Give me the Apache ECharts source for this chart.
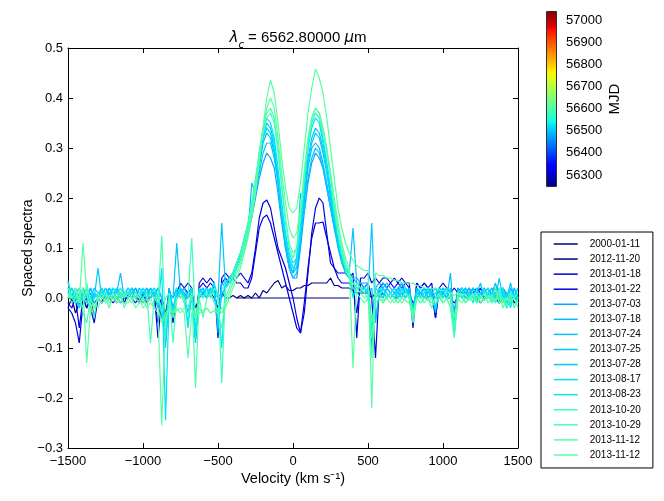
<!DOCTYPE html>
<html><head><meta charset="utf-8">
<script src="https://cdn.jsdelivr.net/npm/echarts@6/dist/echarts.min.js"></script>
<style>html,body{margin:0;padding:0;background:#fff}#c{width:664px;height:501px}</style>
</head><body><div id="c"></div>
<script>
const velocity = [
-1500,-1475,-1450,-1425,-1400,-1375,-1350,-1325,
-1300,-1275,-1250,-1225,-1200,-1175,-1150,-1125,
-1100,-1075,-1050,-1025,-1000,-975,-950,-925,
-900,-875,-850,-825,-800,-775,-750,-725,
-700,-675,-650,-625,-600,-575,-550,-525,
-500,-475,-450,-425,-400,-375,-350,-325,
-300,-275,-250,-225,-200,-175,-150,-125,
-100,-75,-50,-25,0,25,50,75,
100,125,150,175,200,225,250,275,
300,325,350,375,400,425,450,475,
500,525,550,575,600,625,650,675,
700,725,750,775,800,825,850,875,
900,925,950,975,1000,1025,1050,1075,
1100,1125,1150,1175,1200,1225,1250,1275,
1300,1325,1350,1375,1400,1425,1450,1475,
1500];

const dates = ['2000-01-11','2012-11-20','2013-01-18','2013-01-22','2013-07-03','2013-07-18','2013-07-24','2013-07-25','2013-07-28','2013-08-17','2013-08-23','2013-10-20','2013-10-29','2013-11-12','2013-11-12\u200b'];
const mjd = [51554,56251,56310,56314,56476,56491,56497,56498,56501,56521,56527,56585,56594,56608,56608];
const mjdMin = 56246, mjdMax = 57041;
const cbTicks = [56300,56400,56500,56600,56700,56800,56900,57000];

const spec01 = [
null,null,null,null,null,null,null,null,
null,null,null,null,null,null,null,null,
null,null,null,null,null,null,null,null,
null,null,null,null,null,null,null,null,
null,null,null,null,null,null,null,null,
null,null,null,null,null,0,0,0,
0,0,0,0,0,0,0,0,
0,0,0,0,0,0,0,0,
0,0,0,0,0,0,0,0,
0,0,0,0,null,null,null,null,
null,null,null,null,null,null,null,null,
null,null,null,null,null,null,null,null,
null,null,null,null,null,null,null,null,
null,null,null,null,null,null,null,null,
null,null,null,null,null,null,null,null,
null];
const spec02 = [
-0.02,0.00,-0.03,-0.01,0.00,-0.02,0.00,-0.01,
0.00,0.01,0.00,0.00,0.01,0.00,-0.01,0.00,
0.00,0.01,0.00,0.00,-0.01,0.00,0.00,0.01,
-0.02,0.00,-0.03,0.00,-0.02,0.00,0.01,0.00,
0.00,0.01,-0.02,0.00,0.01,0.00,0.01,0.00,
-0.02,0.01,0.00,0.00,0.005,0.00,0.005,0.00,
0.005,0.00,0.01,0.00,0.015,0.01,0.02,0.03,
0.035,0.02,0.025,0.015,0.015,0.02,0.02,0.025,
0.025,0.03,0.03,0.03,0.03,0.03,0.04,0.025,
0.025,0.02,0.02,0.02,0.015,0.01,0.01,0.01,
0.01,0.00,0.01,0.00,0.01,0.00,0.01,0.00,
0.00,0.01,0.00,0.01,-0.01,0.00,0.01,0.00,
0.00,0.01,0.00,0.00,0.01,0.00,0.00,-0.01,
0.00,0.01,0.00,0.00,0.01,0.00,-0.01,0.00,
0.00,0.01,0.00,-0.01,0.00,0.01,0.00,-0.01,
0.00];
const spec03 = [
-0.02,-0.03,-0.05,-0.09,-0.01,0.00,-0.02,-0.05,
0.00,-0.01,0.01,0.00,-0.01,0.00,0.01,-0.01,
0.01,0.00,-0.01,0.00,0.01,-0.01,0.00,0.01,
-0.08,0.00,-0.04,0.02,-0.05,0.01,0.03,0.02,
0.03,0.02,-0.08,0.03,0.04,0.03,0.04,0.03,
-0.08,0.04,0.05,0.04,0.05,0.04,0.05,0.04,
0.03,0.05,0.10,0.16,0.19,0.196,0.18,0.14,
0.10,0.08,0.06,0.03,0.00,-0.04,-0.07,-0.03,
0.05,0.13,0.18,0.20,0.19,0.13,0.07,0.06,
0.05,0.05,0.05,0.04,0.05,-0.08,0.04,0.04,
0.05,0.03,0.04,0.03,0.04,0.04,0.03,0.04,
0.03,0.04,0.03,0.03,-0.06,0.03,0.02,0.03,
0.02,0.03,-0.04,0.02,0.03,0.02,0.01,0.02,
0.01,0.02,0.01,0.02,0.00,0.01,0.02,0.00,
0.01,0.00,0.01,-0.01,0.02,0.00,0.01,-0.01,
0.00];
const spec04 = [
-0.01,-0.02,0.00,-0.06,0.00,-0.02,0.00,-0.04,
0.00,-0.01,0.00,0.01,0.00,-0.01,0.01,0.00,
0.00,0.01,0.00,-0.01,0.01,0.00,0.01,0.00,
-0.05,0.00,-0.07,0.01,-0.04,0.00,0.01,0.02,
0.01,0.02,-0.05,0.02,0.03,0.02,0.03,0.02,
-0.04,0.03,0.04,0.03,0.04,0.03,0.03,0.02,
0.02,0.04,0.09,0.14,0.16,0.166,0.15,0.12,
0.09,0.06,0.03,0.00,-0.03,-0.06,-0.07,-0.01,
0.06,0.12,0.15,0.15,0.152,0.12,0.09,0.06,
0.04,0.03,0.03,0.03,0.02,-0.03,0.03,0.02,
0.03,0.00,-0.12,0.02,0.03,0.02,0.03,0.02,
0.03,0.02,0.03,0.02,-0.04,0.03,0.02,0.03,
0.02,0.01,-0.04,0.02,0.01,0.02,0.01,-0.03,
0.02,0.01,0.02,0.00,0.01,0.02,0.01,0.00,
0.01,0.00,0.02,0.01,0.00,0.01,-0.01,0.00,
0.00];
const spec05 = [
0.035,0.00,0.01,-0.01,0.02,0.00,0.01,-0.01,
0.00,0.02,0.00,0.01,0.00,0.02,0.00,0.01,
0.00,0.01,0.02,0.00,0.01,0.00,0.01,0.02,
0.00,-0.03,-0.09,0.01,-0.02,0.00,0.02,0.01,
0.00,0.01,-0.08,0.02,0.01,0.02,0.01,0.03,
-0.07,0.03,0.03,0.04,0.05,0.07,0.09,0.11,
0.13,0.16,0.20,0.24,0.27,0.29,0.28,0.26,
0.21,0.15,0.10,0.06,0.04,0.04,0.10,0.17,
0.23,0.27,0.29,0.28,0.26,0.22,0.18,0.14,
0.11,0.08,0.06,0.05,0.04,0.04,0.03,0.03,
0.03,-0.10,0.02,0.03,0.02,0.03,0.02,0.01,
0.02,0.03,0.01,0.02,-0.03,0.02,0.01,0.02,
0.01,0.02,-0.02,0.01,0.02,0.01,0.00,-0.07,
0.01,0.02,0.01,0.00,0.02,0.01,0.00,0.01,
0.02,0.00,0.01,0.02,0.00,-0.02,0.01,0.00,
0.01];
const spec06 = [
0.01,0.02,0.00,-0.02,0.01,0.00,0.02,0.00,
0.01,0.00,0.01,0.00,0.02,0.01,0.05,0.00,
0.01,0.02,0.00,0.01,0.00,0.02,0.01,0.00,
0.02,0.00,-0.06,0.01,0.00,0.02,0.01,0.00,
0.01,0.02,-0.05,0.00,0.01,0.02,0.00,0.02,
0.01,0.00,0.02,0.04,0.05,0.07,0.09,0.11,
0.13,0.23,0.21,0.26,0.31,0.33,0.32,0.29,
0.23,0.16,0.10,0.06,0.04,0.05,0.11,0.19,
0.26,0.30,0.31,0.30,0.27,0.23,0.19,0.15,
0.11,0.08,0.06,0.05,0.04,0.03,0.03,0.02,
0.03,-0.06,0.02,0.01,0.03,0.02,0.01,0.02,
0.01,0.03,0.02,0.01,-0.02,0.02,0.01,0.00,
0.02,0.01,-0.03,0.02,0.01,0.00,0.05,-0.06,
0.01,0.02,0.00,0.01,0.02,0.00,0.01,0.02,
0.00,0.02,0.01,0.00,0.02,0.01,-0.01,0.02,
0.00];
const spec07 = [
0.02,0.00,0.01,0.02,0.00,0.01,0.00,0.02,
0.01,0.00,0.02,0.01,0.00,0.02,0.01,0.00,
0.02,0.01,0.00,0.02,0.01,0.00,0.02,0.01,
0.00,-0.02,-0.07,0.01,0.00,0.11,0.01,0.02,
0.00,0.01,-0.07,0.02,0.01,0.00,0.02,0.01,
-0.05,0.03,0.02,0.03,0.05,0.06,0.08,0.11,
0.14,0.18,0.23,0.28,0.32,0.34,0.33,0.30,
0.24,0.17,0.11,0.07,0.05,0.06,0.12,0.21,
0.28,0.32,0.34,0.33,0.30,0.26,0.21,0.16,
0.12,0.08,0.06,0.05,0.14,0.03,0.02,0.02,
0.01,0.02,-0.05,0.01,0.00,0.02,0.01,0.00,
0.01,0.00,0.02,0.01,-0.04,0.00,0.01,0.02,
0.00,0.01,0.00,0.02,0.01,0.00,0.02,-0.06,
0.00,0.02,0.01,0.00,0.02,0.01,0.00,0.01,
0.02,0.00,0.01,-0.01,0.02,0.00,0.03,0.00,
0.02];
const spec08 = [
0.00,0.01,-0.01,0.00,0.02,0.00,-0.01,0.01,
0.00,0.01,0.00,0.02,0.01,0.00,0.01,0.00,
0.01,0.00,0.02,0.01,0.00,0.01,0.02,0.00,
0.01,-0.04,-0.05,0.02,-0.02,0.01,0.00,0.01,
-0.03,0.00,-0.06,0.01,0.02,0.00,0.01,0.02,
-0.06,0.01,0.02,0.03,0.04,0.06,0.08,0.10,
0.13,0.17,0.21,0.25,0.29,0.31,0.31,0.28,
0.23,0.17,0.11,0.07,0.05,0.08,0.21,0.17,
0.24,0.28,0.30,0.29,0.26,0.22,0.18,0.14,
0.10,0.07,0.05,0.04,0.03,0.02,0.02,0.01,
0.02,-0.08,0.01,0.00,0.02,0.01,0.00,0.01,
0.00,0.02,0.01,0.00,-0.03,0.02,0.00,0.01,
0.02,0.00,0.01,0.00,0.02,0.01,0.00,-0.04,
0.01,0.00,0.02,0.01,0.00,0.01,0.00,0.02,
0.00,0.01,0.03,0.00,0.01,-0.01,0.02,0.00,
0.01];
const spec09 = [
0.01,0.00,0.02,0.00,0.01,-0.01,0.02,0.00,
0.06,0.00,0.01,0.02,0.00,0.01,0.02,0.01,
0.00,0.02,0.01,0.00,0.01,0.02,0.00,0.01,
0.02,0.00,-0.10,0.01,0.00,0.02,0.01,0.00,
0.00,0.02,-0.09,0.01,0.02,0.00,0.02,0.01,
0.00,0.15,0.02,0.03,0.04,0.06,0.08,0.10,
0.13,0.17,0.22,0.27,0.32,0.35,0.34,0.31,
0.25,0.18,0.12,0.08,0.06,0.06,0.12,0.20,
0.27,0.31,0.33,0.32,0.29,0.25,0.20,0.15,
0.11,0.08,0.05,0.04,0.02,0.02,0.01,0.02,
0.01,0.15,-0.04,0.01,0.00,0.02,0.01,0.00,
0.02,0.01,0.00,0.02,-0.02,0.01,0.00,0.02,
0.00,0.01,0.02,0.00,0.01,0.02,0.01,-0.03,
0.02,0.00,0.01,0.02,0.00,0.01,0.03,0.00,
0.01,0.02,0.00,0.04,0.00,0.01,0.00,0.02,
0.00];
const spec10 = [
0.00,0.02,-0.01,0.01,0.00,0.02,0.00,0.01,
0.00,0.01,0.02,0.00,0.01,0.02,0.01,0.00,
0.01,0.02,0.01,0.00,0.02,0.01,0.00,0.01,
-0.02,0.06,-0.245,0.00,-0.03,0.01,0.02,0.00,
-0.06,0.01,-0.06,0.02,0.00,0.01,0.02,0.01,
-0.04,0.02,0.02,0.03,0.05,0.07,0.09,0.11,
0.14,0.18,0.23,0.29,0.34,0.36,0.35,0.32,
0.26,0.19,0.13,0.09,0.07,0.08,0.15,0.23,
0.30,0.34,0.36,0.35,0.31,0.27,0.22,0.16,
0.12,0.08,0.06,0.04,0.03,0.02,0.02,0.01,
0.02,-0.05,0.00,0.01,0.02,0.00,0.01,0.00,
0.01,0.02,0.00,0.01,-0.03,0.01,0.02,0.00,
0.01,0.00,0.01,0.02,0.00,0.01,0.00,-0.05,
0.00,0.01,0.02,0.00,0.01,-0.01,0.01,0.02,
0.00,0.01,-0.01,0.02,0.00,0.01,-0.02,0.01,
0.00];
const spec11 = [
0.03,0.00,0.01,-0.02,0.00,0.01,-0.02,0.00,
0.01,0.02,0.00,0.01,0.02,0.01,0.00,0.01,
0.02,0.01,0.00,0.01,0.02,0.00,0.01,0.02,
0.00,-0.02,-0.08,0.01,-0.03,0.02,0.01,0.00,
-0.05,0.02,-0.08,0.01,0.00,0.02,0.01,0.03,
0.00,-0.10,0.03,0.04,0.05,0.07,0.09,0.12,
0.15,0.19,0.23,0.28,0.32,0.34,0.33,0.31,
0.25,0.18,0.12,0.08,0.06,0.07,0.14,0.22,
0.30,0.35,0.37,0.36,0.32,0.27,0.22,0.17,
0.12,0.09,0.06,0.05,0.00,0.03,0.02,0.02,
0.01,-0.06,0.00,0.02,0.01,0.00,0.01,0.02,
0.00,0.01,0.02,0.00,-0.04,0.01,0.00,0.01,
0.02,0.00,-0.02,0.01,0.00,0.02,0.01,-0.07,
0.01,0.02,0.00,0.01,-0.01,0.02,0.00,0.01,
0.02,-0.01,0.01,0.00,0.02,-0.02,0.00,0.01,
-0.01];
const spec12 = [
0.01,-0.01,0.00,0.02,-0.03,-0.05,0.00,-0.02,
0.00,0.01,-0.01,0.00,0.01,0.00,-0.01,0.01,
0.00,0.01,0.00,-0.01,0.00,0.01,-0.09,0.00,
0.01,-0.03,0.00,0.01,-0.09,0.00,0.01,-0.01,
0.00,0.12,-0.05,0.01,0.00,0.01,0.00,0.02,
0.01,-0.17,0.02,0.03,0.05,0.07,0.09,0.12,
0.15,0.19,0.24,0.29,0.33,0.36,0.37,0.35,
0.29,0.22,0.15,0.10,0.08,0.10,0.17,0.25,
0.32,0.36,0.38,0.37,0.34,0.30,0.25,0.19,
0.14,0.10,0.07,0.05,0.03,0.02,0.01,0.00,
0.005,-0.08,0.00,0.01,-0.005,0.00,0.01,0.00,
-0.01,0.00,0.01,0.00,-0.05,0.00,0.005,-0.01,
0.00,-0.02,0.00,0.01,-0.01,0.00,-0.02,-0.08,
0.00,0.01,-0.01,0.00,0.00,0.01,-0.01,0.00,
0.01,0.00,-0.01,0.02,-0.01,0.00,0.01,-0.02,
0.00];
const spec13 = [
0.02,0.00,0.01,0.00,-0.02,0.03,-0.01,-0.04,
0.01,0.00,0.01,0.00,0.01,0.00,0.02,0.00,
0.01,0.00,0.00,0.01,-0.01,0.00,0.01,0.00,
-0.01,0.125,-0.06,0.00,-0.04,0.00,0.01,0.00,
-0.02,0.01,-0.18,0.00,-0.04,0.00,0.01,-0.01,
-0.03,-0.06,0.00,0.02,0.04,0.06,0.08,0.11,
0.14,0.18,0.23,0.29,0.34,0.37,0.38,0.36,
0.30,0.23,0.16,0.11,0.09,0.10,0.16,0.24,
0.31,0.35,0.37,0.36,0.33,0.29,0.24,0.18,
0.13,0.09,0.06,0.04,0.02,0.01,0.00,-0.01,
0.00,-0.12,0.01,0.00,-0.01,0.005,0.00,-0.01,
0.00,-0.01,0.00,0.005,-0.03,0.00,-0.01,0.00,
0.00,-0.01,0.00,0.005,-0.01,0.00,0.00,-0.06,
0.01,0.00,-0.01,0.00,0.01,-0.005,0.00,0.01,
-0.01,0.00,0.02,-0.01,0.00,-0.02,0.01,0.00,
0.01];
const spec14 = [
0.00,0.01,0.02,-0.01,0.11,0.01,-0.03,-0.02,
0.00,-0.01,0.00,-0.02,0.01,-0.01,0.00,-0.01,
-0.01,0.00,-0.02,-0.01,0.00,-0.02,-0.01,-0.02,
-0.02,-0.05,-0.03,-0.02,-0.03,-0.025,-0.02,-0.03,
-0.12,-0.03,-0.02,-0.03,-0.025,-0.02,-0.03,-0.025,
-0.02,-0.03,-0.01,0.01,0.03,0.05,0.07,0.10,
0.13,0.17,0.22,0.28,0.34,0.38,0.40,0.38,
0.32,0.25,0.19,0.14,0.12,0.13,0.18,0.25,
0.32,0.36,0.38,0.37,0.34,0.30,0.25,0.20,
0.15,0.11,0.08,0.06,-0.14,0.03,0.02,0.01,
0.00,-0.05,-0.01,0.00,-0.01,0.00,-0.01,0.00,
-0.01,0.00,-0.005,-0.01,-0.04,0.00,-0.01,0.00,
-0.005,0.00,-0.01,0.00,-0.01,0.00,0.005,-0.04,
0.00,-0.01,0.00,-0.005,0.00,-0.01,0.00,-0.005,
0.005,-0.01,0.00,0.01,-0.02,0.00,-0.01,0.00,
-0.02];
const spec15 = [
0.01,0.00,-0.01,0.00,0.02,-0.13,-0.02,-0.01,
-0.02,0.00,0.01,-0.01,0.00,-0.01,0.01,-0.02,
0.00,-0.01,0.01,0.00,-0.02,-0.01,0.00,-0.02,
-0.03,-0.255,-0.04,-0.02,-0.03,-0.02,-0.03,-0.02,
-0.03,-0.02,-0.04,-0.02,-0.03,-0.02,-0.03,-0.025,
-0.03,-0.02,-0.02,0.00,0.02,0.04,0.06,0.09,
0.12,0.16,0.21,0.27,0.34,0.40,0.436,0.41,
0.35,0.28,0.22,0.18,0.17,0.18,0.23,0.30,
0.37,0.42,0.458,0.44,0.41,0.36,0.30,0.24,
0.18,0.14,0.11,0.09,0.075,0.065,0.06,0.055,
0.055,-0.22,0.05,0.045,0.045,0.04,0.04,0.035,
0.035,0.03,0.03,0.028,0.03,0.025,0.025,0.02,
0.02,0.018,0.02,0.015,0.015,0.012,0.01,0.005,
0.01,0.008,0.005,0.0,0.005,0.0,0.002,-0.005,
0.0,0.005,-0.005,0.0,-0.01,0.0,-0.005,0.0,
-0.01];

const spectra = [spec01,spec02,spec03,spec04,spec05,spec06,spec07,spec08,spec09,spec10,spec11,spec12,spec13,spec14,spec15];

function interp(f, pts){
  for (let k = 1; k < pts.length; k++) {
    if (f <= pts[k][0]) {
      const a = pts[k-1], b = pts[k];
      return a[1] + (b[1]-a[1]) * (f-a[0]) / (b[0]-a[0]);
    }
  }
  return pts[pts.length-1][1];
}
function jet(f){
  f = Math.max(0, Math.min(1, f));
  const r = interp(f, [[0,0],[0.35,0],[0.66,1],[0.89,1],[1,0.5]]);
  const g = interp(f, [[0,0],[0.125,0],[0.375,1],[0.64,1],[0.91,0],[1,0]]);
  const b = interp(f, [[0,0.5],[0.11,1],[0.34,1],[0.65,0],[1,0]]);
  return 'rgb(' + Math.round(r*255) + ',' + Math.round(g*255) + ',' + Math.round(b*255) + ')';
}
const stops = [];
for (let k = 0; k <= 100; k++) stops.push({offset: k/100, color: jet(k/100)});

const FONT = '"Liberation Sans", Arial, sans-serif';
const fmtMinus = v => (Math.abs(v) < 1e-9 ? 0 : v);

const lineSeries = dates.map((d, k) => {
  const col = jet((mjd[k]-mjdMin)/(mjdMax-mjdMin));
  return {
    type: 'line', name: d, xAxisIndex: 0, yAxisIndex: 0,
    data: velocity.map((v, i) => [v, spectra[k][i]]),
    symbol: 'none', showSymbol: false,
    lineStyle: {width: 1.2, color: col},
    itemStyle: {color: col},
    connectNulls: false, z: 2 + k
  };
});

const chart = echarts.init(document.getElementById('c'), null, {renderer: 'canvas'});
chart.setOption({
  animation: false,
  backgroundColor: '#fff',
  textStyle: {fontFamily: FONT},
  title: {
    text: '{i|λ}{sub|c}{n| = 6562.80000 }{i|μ}{n|m}',
    left: 293, top: 21, textAlign: 'center',
    textStyle: {
      fontWeight: 'normal',
      rich: {
        i: {fontFamily: '"DejaVu Sans"', fontStyle: 'italic', fontWeight: 'normal', fontSize: 15, color: '#000'},
        sub: {fontFamily: '"DejaVu Sans"', fontStyle: 'italic', fontWeight: 'normal', fontSize: 10, color: '#000', verticalAlign: 'bottom', lineHeight: 24},
        n: {fontFamily: FONT, fontWeight: 'normal', fontSize: 15, color: '#000'}
      }
    }
  },
  legend: {
    data: dates,
    orient: 'vertical', left: 541, top: 232,
    padding: [7, 12, 8, 12],
    itemWidth: 24, itemHeight: 10, itemGap: 5.07,
    backgroundColor: '#fff', borderColor: '#000', borderWidth: 1, borderRadius: 0,
    itemStyle: {opacity: 0},
    lineStyle: {width: 1.5},
    textStyle: {fontFamily: FONT, fontSize: 10, color: '#000', padding: [0, 0, 0, 7]},
    selectedMode: false
  },
  grid: [
    {left: 68, top: 48, width: 450, height: 400, containLabel: false},
    {left: 546, top: 11, width: 11, height: 176, containLabel: false}
  ],
  xAxis: [
    {type: 'value', gridIndex: 0, min: -1500, max: 1500, interval: 500, position: 'bottom',
     name: 'Velocity (km s⁻¹)', nameLocation: 'middle', nameGap: 23, nameMoveOverlap: false,
     nameTextStyle: {fontFamily: FONT, fontSize: 14.5, color: '#000'},
     axisLine: {show: true, onZero: false, lineStyle: {color: '#000', width: 1}},
     axisTick: {show: true, inside: true, length: 5, lineStyle: {color: '#000'}},
     axisLabel: {show: true, margin: 7, fontFamily: FONT, fontSize: 13, color: '#000',
       formatter: v => String(fmtMinus(v)).replace('-', '\u2212')},
     splitLine: {show: false}},
    {type: 'value', gridIndex: 0, min: -1500, max: 1500, interval: 500, position: 'top',
     axisLine: {show: true, onZero: false, lineStyle: {color: '#000', width: 1}},
     axisTick: {show: true, inside: true, length: 5, lineStyle: {color: '#000'}},
     axisLabel: {show: false}, splitLine: {show: false}},
    {type: 'category', gridIndex: 1, data: ['cb'], show: false}
  ],
  yAxis: [
    {type: 'value', gridIndex: 0, min: -0.3, max: 0.5, interval: 0.1, position: 'left',
     name: 'Spaced spectra', nameLocation: 'middle', nameGap: 33, nameRotate: 90, nameMoveOverlap: false,
     nameTextStyle: {fontFamily: FONT, fontSize: 14, color: '#000'},
     axisLine: {show: true, onZero: false, lineStyle: {color: '#000', width: 1}},
     axisTick: {show: true, inside: true, length: 5, lineStyle: {color: '#000'}},
     axisLabel: {show: true, margin: 5, fontFamily: FONT, fontSize: 13, color: '#000',
       formatter: v => fmtMinus(v).toFixed(1).replace('-', '\u2212')},
     splitLine: {show: false}},
    {type: 'value', gridIndex: 0, min: -0.3, max: 0.5, interval: 0.1, position: 'right',
     axisLine: {show: true, onZero: false, lineStyle: {color: '#000', width: 1}},
     axisTick: {show: true, inside: true, length: 5, lineStyle: {color: '#000'}},
     axisLabel: {show: false}, splitLine: {show: false}},
    {type: 'value', gridIndex: 1, min: mjdMin, max: mjdMax, position: 'right',
     name: 'MJD', nameLocation: 'middle', nameGap: 50, nameRotate: 90,
     nameTextStyle: {fontFamily: FONT, fontSize: 15, color: '#000'},
     axisLine: {show: false},
     axisTick: {show: true, inside: true, length: 4, customValues: cbTicks, lineStyle: {color: '#222'}},
     axisLabel: {show: true, margin: 9, fontFamily: FONT, fontSize: 13, color: '#000', customValues: cbTicks,
       formatter: v => String(v)},
     splitLine: {show: false}}
  ],
  series: lineSeries.concat([
    {type: 'bar', xAxisIndex: 2, yAxisIndex: 2, stack: 'cb', data: [mjdMin], barWidth: '100%',
     itemStyle: {color: 'rgba(0,0,0,0)'}, silent: true, z: 1},
    {type: 'bar', xAxisIndex: 2, yAxisIndex: 2, stack: 'cb', data: [mjdMax - mjdMin], barWidth: '100%',
     itemStyle: {color: {type: 'linear', x: 0, y: 1, x2: 0, y2: 0, colorStops: stops}, borderColor: '#333', borderWidth: 1},
     silent: true, z: 1}
  ])
});
</script>
</body></html>
